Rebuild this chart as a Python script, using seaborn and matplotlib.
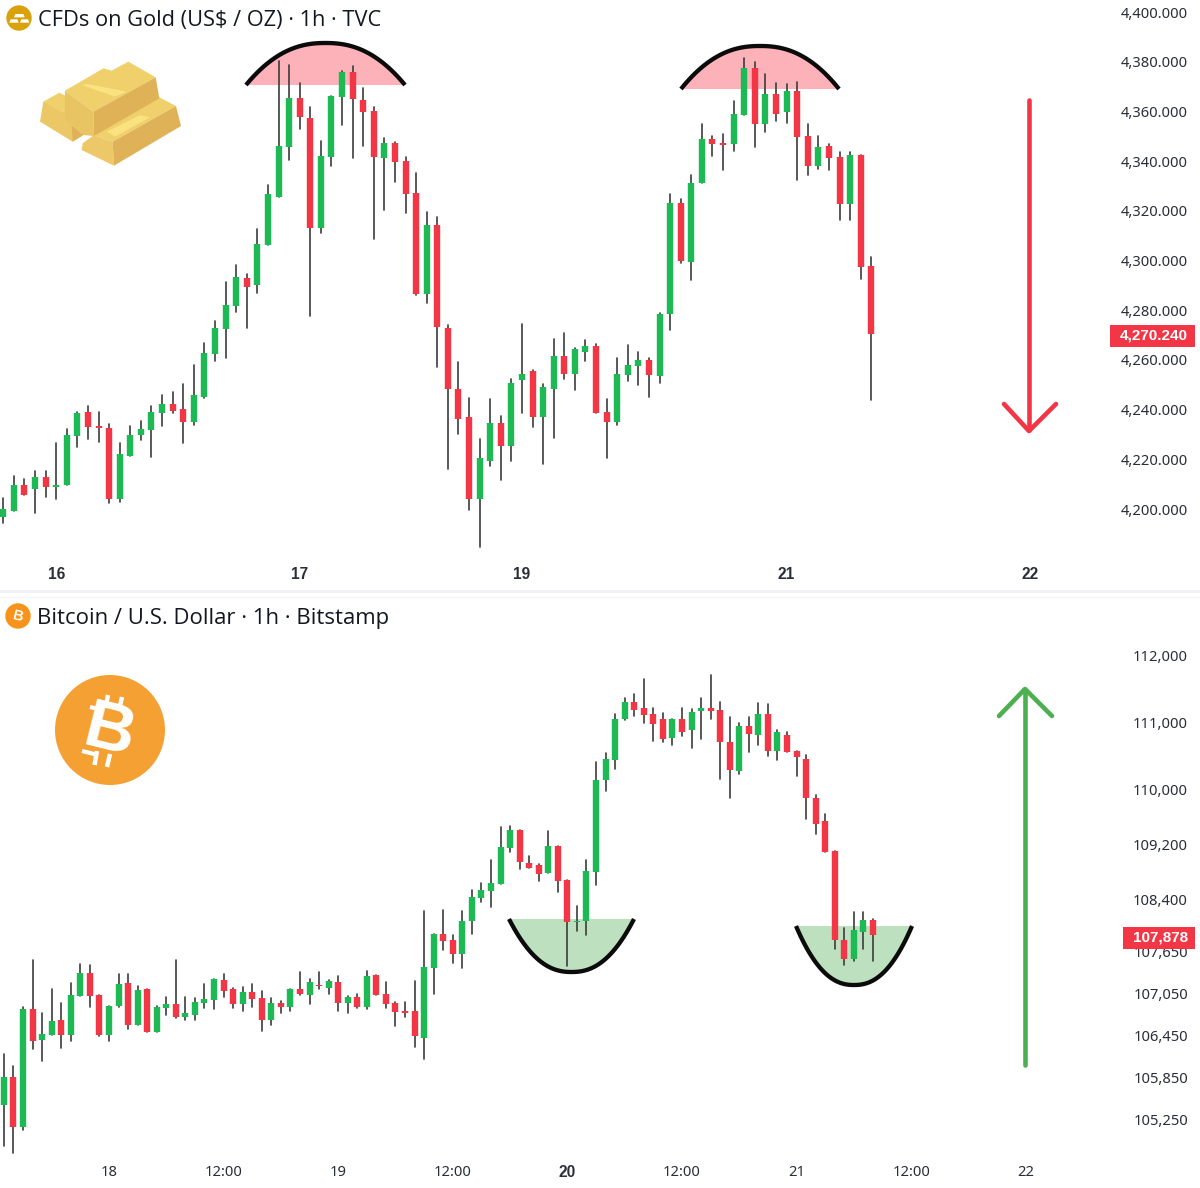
import numpy as np
import pandas as pd
import matplotlib
matplotlib.use("Agg")
import matplotlib.pyplot as plt
from matplotlib.patches import Polygon, Circle, Rectangle
from matplotlib.transforms import Affine2D
import seaborn as sns

# ---------- data: gold hourly candles ----------
gold_high = [4204.3,4213.3,4212.2,4215.3,4215.3,4226.7,4232.2,4239.0,4241.6,4239.0,
             4234.4,4226.7,4233.4,4235.4,4241.6,4245.7,4247.2,4250.3,4258.1,4266.8,
             4275.5,4291.5,4298.2,4294.6,4312.5,4330.2,4380.3,4378.7,4371.3,4361.6,
             4348.2,4366.2,4376.4,4378.3,4369.3,4361.6,4349.2,4347.5,4341.6,4335.3,
             4319.4,4317.4,4274.0,4259.0,4244.7,4228.2,4244.1,4237.4,4252.4,4274.6,
             4256.0,4250.3,4268.4,4271.0,4264.8,4267.9,4266.3,4244.1,4260.6,4265.9,
             4263.2,4260.6,4278.7,4326.6,4324.6,4334.3,4354.9,4350.2,4350.8,4364.2,
             4381.3,4379.7,4375.0,4371.4,4370.9,4372.0,4354.9,4350.3,4346.8,4343.7,
             4343.7,4342.5,4301.3]
gold_low = [4194.2,4199.4,4205.6,4198.5,4204.9,4204.0,4209.6,4225.1,4228.1,4227.1,
            4202.5,4202.9,4221.4,4227.7,4221.0,4233.4,4238.5,4226.7,4233.8,4244.8,
            4259.7,4260.6,4279.3,4272.7,4287.1,4306.1,4325.7,4340.4,4352.9,4277.8,
            4311.2,4338.0,4354.5,4341.1,4346.2,4308.7,4320.3,4331.7,4319.0,4286.0,
            4282.8,4257.0,4216.0,4230.3,4199.5,4184.8,4217.4,4211.7,4219.4,4238.5,
            4232.9,4218.0,4228.7,4252.4,4247.9,4259.7,4238.5,4220.5,4233.9,4251.4,
            4249.9,4245.2,4250.6,4272.2,4298.9,4292.3,4331.3,4342.2,4336.4,4344.2,
            4358.5,4345.8,4351.8,4356.0,4355.5,4332.4,4334.4,4337.0,4336.5,4316.3,
            4316.3,4292.7,4243.7]
gold_top = [4200.2,4209.6,4209.6,4212.7,4212.7,4209.6,4229.6,4238.5,4239.0,4233.4,
            4232.8,4222.0,4229.6,4232.2,4239.0,4242.1,4242.1,4240.1,4245.7,4262.6,
            4272.9,4282.2,4293.5,4293.0,4306.5,4326.6,4346.0,4365.2,4365.2,4357.5,
            4342.0,4366.2,4376.0,4376.0,4364.6,4360.0,4347.2,4347.2,4339.9,4327.0,
            4314.3,4314.3,4273.0,4248.3,4236.9,4220.4,4234.7,4234.7,4250.8,4254.3,
            4255.4,4249.2,4261.6,4261.6,4264.2,4265.7,4265.7,4238.9,4254.3,4257.9,
            4260.0,4260.0,4278.6,4323.0,4323.0,4331.0,4348.8,4348.8,4347.1,4359.1,
            4377.6,4377.6,4366.9,4366.9,4368.3,4368.3,4350.2,4345.7,4346.1,4341.5,
            4342.5,4342.5,4297.7]
gold_bot = [4196.9,4199.4,4205.6,4208.0,4208.7,4208.7,4209.6,4229.3,4233.0,4232.8,
            4204.0,4204.0,4221.4,4229.8,4231.8,4238.5,4239.5,4234.9,4234.9,4245.2,
            4262.3,4272.5,4281.8,4289.5,4290.1,4306.1,4325.7,4345.8,4357.6,4313.2,
            4313.2,4341.8,4366.0,4364.8,4359.6,4341.7,4341.1,4339.5,4326.8,4286.4,
            4286.5,4273.1,4248.4,4236.1,4204.0,4204.0,4219.4,4225.2,4225.2,4251.9,
            4237.0,4237.0,4248.3,4254.5,4254.5,4263.3,4238.5,4234.9,4234.9,4253.9,
            4257.5,4253.9,4253.6,4278.3,4299.9,4299.5,4331.3,4346.7,4346.6,4346.7,
            4358.5,4354.9,4354.9,4359.1,4359.6,4349.8,4338.0,4338.0,4341.1,4322.6,
            4322.6,4297.4,4270.24]
gold_dir = list("GGRGRGGGRR" "RGGGGGRRGG" "GGGRGGGGRR" "GGGRRRGRRR" "GRRRRGGRGG"
                "RGGRGGRRGG" "GRGGRGGRRG" "GRGRGRRGRR" "GRR")
gold_ticks = [4400,4380,4360,4340,4320,4300,4280,4260,4240,4220,4200]
gold_ticklabels = ["4,400.000","4,380.000","4,360.000","4,340.000","4,320.000","4,300.000",
                   "4,280.000","4,260.000","4,240.000","4,220.000","4,200.000"]
gold_x_pos = [5,28,49,74,97]
gold_x_labels = ["16","17","19","21","22"]

# ---------- data: bitcoin hourly candles ----------
btc_high = [106178,106012,106854,107520,106759,107109,106906,107194,107468,107449,
            107028,106868,107321,107321,107156,107104,106868,106995,107520,106995,
            106976,107175,107250,107321,107123,107142,107175,107085,106976,106939,
            107104,107350,107254,107350,107230,107292,107014,107033,107364,107311,
            107201,106923,106923,107220,108233,107902,108252,107883,108233,108531,
            108641,108972,109452,109471,109414,109030,108919,109395,109174,108675,
            108303,108973,110414,110547,111114,111361,111415,111647,111208,111134,
            111040,111208,111193,111361,111706,111302,111080,110986,111080,111287,
            111267,110888,110853,110567,110513,109921,109640,109098,107990,108211,
            108211,108120]
btc_low = [104888,104784,105105,106249,106088,106452,106272,106362,107014,106849,
           106438,106362,106849,106542,106598,106490,106490,106740,106693,106669,
           106669,106830,106816,106995,106830,106797,106849,106504,106598,106759,
           106797,107019,106889,107110,107033,106798,106759,106836,106817,107019,
           106831,106577,106707,106284,106116,107038,107667,107484,107407,107902,
           108367,108291,108627,109083,108847,108862,108660,108775,108511,107441,
           107941,107884,108606,109985,110306,111035,111085,110986,110725,110705,
           110666,110799,110612,110745,111040,110158,109872,110232,110552,110666,
           110493,110439,110552,110197,109571,109344,109088,107676,107459,107512,
           107676,107512]
btc_top = [105852,105852,106816,106816,106471,106650,106669,107028,107340,107340,
           107028,106868,107175,107194,107099,107104,106849,106887,106887,106759,
           106920,106958,107250,107231,107104,107066,107066,106976,106906,106906,
           107104,107105,107201,107163,107220,107201,106999,106999,107292,107311,
           107033,106903,106798,106798,107422,107902,107902,107811,108084,108435,
           108531,108641,109155,109414,109414,108934,108900,109174,109174,108675,
           108081,108804,110148,110454,111040,111302,111302,111208,111114,111040,
           111040,111040,111154,111208,111208,111174,110700,110947,110947,111119,
           111119,110853,110814,110567,110454,109882,109542,109098,107806,107951,
           108100,108100]
btc_bot = [105455,105143,105143,106362,106381,106452,106452,106452,107014,107014,
           106452,106452,106868,106598,106598,106490,106490,106830,106707,106707,
           106740,106906,106943,107085,106887,106887,106958,106669,106669,106849,
           106849,107033,107019,107148,107129,106908,106908,106851,106851,107019,
           106889,106779,106764,106433,106414,107407,107791,107609,107609,108089,
           108420,108516,108627,109140,108939,108862,108771,108775,108660,108070,
           108067,108086,108794,110138,110444,111050,111183,111109,110971,110745,
           110764,110858,110878,111164,111164,110705,110291,110271,110819,110804,
           110572,110577,110552,110478,109872,109498,109088,107811,107532,107532,
           107922,107878]
btc_dir = list("GRGRGGRGGR" "RGGRGRGGRG" "GGGRRGRRGR" "GRGRGRGRGR" "RRRRGGRRGG"
               "GGGGRRRGRR" "GGGGGGRRRR" "GRGGRRRGRG" "RGRRRRRRRG" "GR")
btc_ticks = [112000,111000,110000,109200,108400,107650,107050,106450,105850,105250]
btc_ticklabels = ["112,000","111,000","110,000","109,200","108,400","107,650",
                  "107,050","106,450","105,850","105,250"]
btc_x_pos = [11,23,35,47,59,71,83,95,107]
btc_x_labels = ["18","12:00","19","12:00","20","12:00","21","12:00","22"]

# ---------- style ----------
RED = "#F23645"
GREEN = "#1DB954"
WICK = "#3C3C3C"
TEXT = "#131722"
AXTEXT = "#2A2E39"
W, H = 1200, 1188

sns.set_theme(style="white")
plt.rcParams["font.family"] = ["Noto Sans", "DejaVu Sans"]

fig = plt.figure(figsize=(W / 100, H / 100), dpi=100, facecolor="white")
px = Affine2D().scale(1, -1).translate(0, H)   # reference pixels -> display


def axes_px(left, top, right, bottom):
    return fig.add_axes([left / W, 1 - bottom / H, (right - left) / W, (bottom - top) / H])


def candles(ax, high, low, top, bot, dirs):
    idx = np.arange(len(high))
    wicks = pd.DataFrame({"i": np.r_[idx, idx], "price": np.r_[high, low]})
    bodies = pd.DataFrame({"i": np.r_[idx, idx], "price": np.r_[top, bot],
                           "dir": dirs + dirs})
    sns.lineplot(data=wicks, x="i", y="price", units="i", estimator=None, sort=False,
                 color=WICK, lw=1.2, ax=ax, zorder=3)
    sns.lineplot(data=bodies, x="i", y="price", units="i", hue="dir", estimator=None,
                 sort=False, palette={"G": GREEN, "R": RED}, lw=4.6, legend=False,
                 ax=ax, zorder=4, solid_capstyle="butt")


def style_axes(ax, yt, ytl, xt, xtl, bold_x):
    ax.set_yticks(yt, ytl)
    ax.minorticks_off()
    ax.set_xticks(xt, xtl)
    ax.set_xlabel("")
    ax.set_ylabel("")
    ax.yaxis.tick_right()
    ax.tick_params(axis="y", length=0, pad=78 * 0.72, labelsize=10.6, labelcolor=AXTEXT, which="both")
    ax.tick_params(axis="x", length=0, pad=5, labelsize=10.6, labelcolor=AXTEXT)
    for t in ax.get_yticklabels():
        t.set_ha("right")
    for t, s in zip(ax.get_xticklabels(), xtl):
        if bold_x(s):
            t.set_fontfamily("Liberation Sans")
            t.set_fontweight("bold")
            t.set_fontsize(11.2)
    sns.despine(ax=ax, left=True, bottom=True, top=True, right=True)
    ax.patch.set_alpha(0)


# ---------- panels ----------
ax1 = axes_px(0, 0, 1110, 560)
ax1.set_xlim(-3.3 / 10.585, (1110 - 3.3) / 10.585)
ax1.set_ylim(4179.5, 4404.83)
candles(ax1, gold_high, gold_low, gold_top, gold_bot, gold_dir)
style_axes(ax1, gold_ticks, gold_ticklabels, gold_x_pos, gold_x_labels, lambda s: True)

ax2 = axes_px(0, 600, 1110, 1158)
ax2.set_yscale("log")
ax2.set_xlim(-3.9 / 9.55, (1110 - 3.9) / 9.55)
ax2.set_ylim(104714, 112827)
candles(ax2, btc_high, btc_low, btc_top, btc_bot, btc_dir)
style_axes(ax2, btc_ticks, btc_ticklabels, btc_x_pos, btc_x_labels, lambda s: s == "20")


# ---------- pattern shapes ----------
def dome(x0, x1, y_edge, y_apex, fill, p):
    xs = np.linspace(x0, x1, 80)
    u = (xs - (x0 + x1) / 2) / ((x1 - x0) / 2)
    ys = y_edge + (y_apex - y_edge) * (1 - np.abs(u) ** p)
    fig.add_artist(Polygon(np.c_[xs, ys], closed=True, fc=fill, ec="none", transform=px, zorder=-1))
    return xs, ys


for x0, x1, ye, ya, fc in [(246, 405, 85, 43, "#FDB2BA"), (681, 839, 89, 46, "#FDB2BA"),
                           (509, 634, 919, 972, "#BDE1BE"), (796, 912, 926, 985, "#BDE1BE")]:
    xs, ys = dome(x0, x1, ye, ya, fc, 2.3)
    fig.add_artist(plt.Line2D(xs, ys, color="#0B0B0B", lw=3.1, transform=px, zorder=5,
                              solid_capstyle="butt"))

# arrows
for pts, col in [([(1029, 100), (1029, 430)], RED), ([(1004, 404), (1029, 431), (1056, 404)], RED),
                 ([(1025, 1065), (1025, 690)], "#4CAF50"), ([(999, 716), (1025, 689), (1052, 716)], "#4CAF50")]:
    p = np.array(pts)
    fig.add_artist(plt.Line2D(p[:, 0], p[:, 1], color=col, lw=3.3, transform=px, zorder=5,
                              solid_capstyle="round", solid_joinstyle="round"))


# gold bars icon (polygons given at 3x of reference pixels)
def poly(points, col, z=6):
    fig.add_artist(Polygon(np.array(points) / 3, closed=True, fc=col, ec="none", transform=px, zorder=z))


poly([(130, 305), (120, 365), (218, 425), (250, 405), (215, 375), (195, 320)], "#EBC765")
poly([(130, 305), (178, 278), (260, 320), (200, 345)], "#EFD06B")
poly([(215, 375), (250, 405), (218, 425)], "#E0B257")
poly([(282, 405), (248, 430), (245, 450), (342, 497), (338, 425)], "#EDC868")
poly([(282, 405), (478, 292), (528, 318), (338, 425)], "#EFD06B")
poly([(338, 425), (528, 318), (543, 378), (342, 497)], "#E0B257")
poly([(320, 395), (420, 345), (450, 352), (345, 410)], "#F9E27F")
poly([(195, 272), (310, 205), (335, 212), (385, 185), (467, 232), (280, 335)], "#EFD06B")
poly([(195, 272), (280, 335), (282, 408), (250, 405), (215, 375), (195, 355)], "#E9C463")
poly([(280, 335), (467, 232), (478, 295), (282, 408)], "#E0B257")
poly([(245, 255), (265, 252), (380, 275), (345, 290)], "#F9E27F")

# header icons
fig.add_artist(Circle((19, 18), 12.7, fc="#D9A20B", ec="none", transform=px, zorder=6))
poly([(46, 42), (70, 42), (74, 52), (42, 52)], "white", 7)
poly([(32, 58), (52, 58), (56, 68), (28, 68)], "white", 7)
poly([(64, 58), (84, 58), (88, 68), (60, 68)], "white", 7)
fig.add_artist(Circle((18, 616), 12.7, fc="#F7931A", ec="none", transform=px, zorder=6))
fig.text(18, H - 616, "B", transform=Affine2D(), color="white", fontsize=10.5, fontweight="bold",
         family="Liberation Sans", ha="center", va="center", rotation=-14, rotation_mode="anchor", zorder=7)
fig.add_artist(Circle((110, 730), 55, fc="#F5A033", ec="none", transform=px, zorder=6))
fig.text(109, H - 733, "B", transform=Affine2D(), color="white", fontsize=50, fontweight="bold",
         family="Liberation Sans", ha="center", va="center", rotation=-14, rotation_mode="anchor", zorder=7)
for x1, y1, x2, y2, lw in [(108, 695, 105.5, 708, 3.2), (122, 697, 119, 710, 3.2),
                           (97, 751, 94.5, 765, 3.2), (110, 754, 107, 767, 3.2),
                           (90, 707, 100, 709.5, 3.0), (82, 751, 96, 754.5, 3.0)]:
    fig.add_artist(plt.Line2D([x1, x2], [y1, y2], color="white", lw=lw, transform=px, zorder=7,
                              solid_capstyle="butt"))

# titles
fig.text(38, H - 20.5, "CFDs on Gold (US$ / OZ) · 1h · TVC", transform=Affine2D(), color=TEXT,
         fontsize=15.7, family="Open Sans", ha="left", va="center", zorder=7)
fig.text(37, H - 618.5, "Bitcoin / U.S. Dollar · 1h · Bitstamp", transform=Affine2D(), color=TEXT,
         fontsize=15.9, family="Open Sans", ha="left", va="center", zorder=7)

# last-price tags
for x0, y0, x1, y1, label, yc in [(1110, 325, 1195, 347, "4,270.240", 335.5),
                                  (1123, 927, 1195, 949, "107,878", 937.5)]:
    fig.add_artist(Rectangle((x0, y0), x1 - x0, y1 - y0, fc=RED, ec="none", transform=px, zorder=8))
    fig.text(1188, H - yc, label, transform=Affine2D(), color="white", fontsize=11, fontweight="bold",
             family="Liberation Sans", ha="right", va="center", zorder=9)

# pane separator
for y0, y1 in [(590, 593), (597, 598)]:
    fig.add_artist(Rectangle((0, y0), W, y1 - y0, fc="#F0F1F4", ec="none", transform=px, zorder=-1))

fig.savefig("out.png", dpi=100, facecolor="white")
